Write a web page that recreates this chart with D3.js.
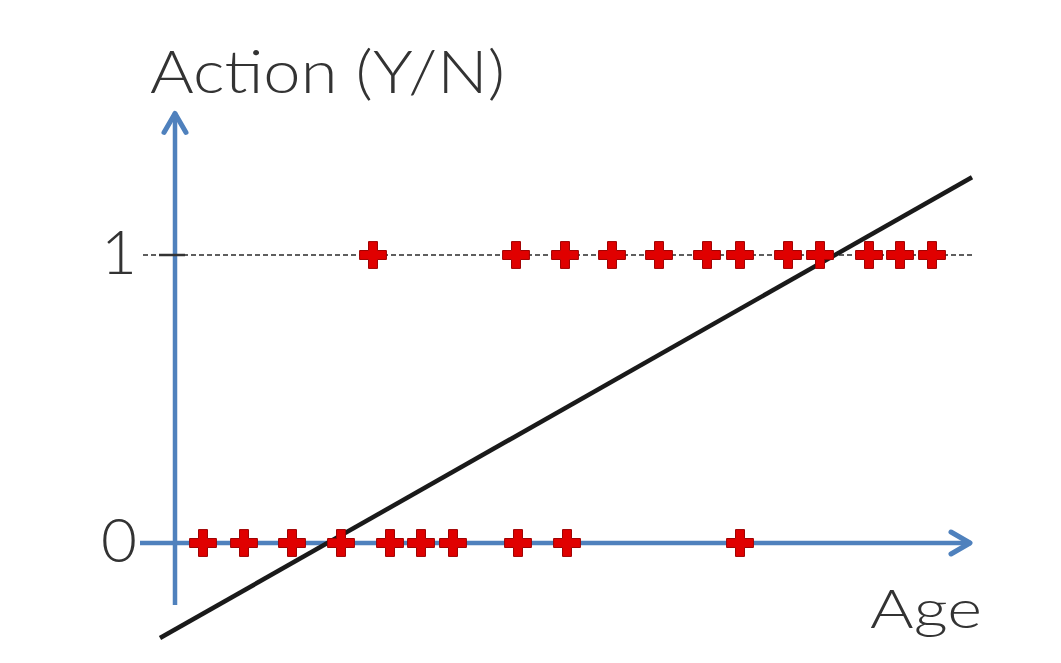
<!DOCTYPE html>
<html>
<head>
<meta charset="utf-8">
<script src="https://cdn.jsdelivr.net/npm/d3@7"></script>
<style>
  body { margin: 0; background: #fff; }
  svg { display: block; }
</style>
</head>
<body>
<div id="chart"></div>
<script>
// ages of people who took the action (1) and who didn't (0)
const yesAges = [19.8, 34.1, 39.0, 43.7, 48.4, 53.2, 56.5, 61.3, 64.5, 69.4, 72.5, 75.7];
const noAges = [2.8, 6.9, 11.7, 16.6, 21.5, 24.6, 27.8, 34.3, 39.2, 56.5];
// fitted straight line, two end points
const lineAges = [-1.5, 79.7];
const lineValues = [-0.33, 1.27];
const tickValues = [0, 1];

const width = 1061, height = 663;

const svg = d3.select("#chart").append("svg")
    .attr("width", width)
    .attr("height", height);

const x = d3.scaleLinear().domain([0, 80]).range([175, 975]);
const y = d3.scaleLinear().domain([0, 1]).range([543, 255]);

const blue = "#4f81bd";

// chevron arrow head
const defs = svg.append("defs");
defs.append("marker")
    .attr("id", "arrow")
    .attr("viewBox", "-26 -16 30 32")
    .attr("refX", 0).attr("refY", 0)
    .attr("markerWidth", 30).attr("markerHeight", 32)
    .attr("markerUnits", "userSpaceOnUse")
    .attr("orient", "auto")
    .append("path")
    .attr("d", "M-20,-11 L-1,0 L-20,11")
    .attr("fill", "none")
    .attr("stroke", blue)
    .attr("stroke-width", 5)
    .attr("stroke-linecap", "round")
    .attr("stroke-linejoin", "round");

// dashed guide at 1
svg.append("line")
    .attr("x1", x(-3.2)).attr("x2", x(80))
    .attr("y1", y(1)).attr("y2", y(1))
    .attr("stroke", "#2a2a2a")
    .attr("stroke-width", 1.5)
    .attr("stroke-dasharray", "5,3");

// axes
svg.append("line")
    .attr("x1", x(-3.5)).attr("x2", x(79.6))
    .attr("y1", y(0)).attr("y2", y(0))
    .attr("stroke", blue).attr("stroke-width", 4.5)
    .attr("marker-end", "url(#arrow)");

svg.append("line")
    .attr("x1", x(0)).attr("x2", x(0))
    .attr("y1", y(-0.215)).attr("y2", y(1.495))
    .attr("stroke", blue).attr("stroke-width", 4.5)
    .attr("marker-end", "url(#arrow)");

// small solid tick at 1
svg.append("line")
    .attr("x1", x(-1.6)).attr("x2", x(1))
    .attr("y1", y(1)).attr("y2", y(1))
    .attr("stroke", "#333").attr("stroke-width", 2.5);

// tick labels
const yAxis = d3.axisLeft(y).tickValues(tickValues).tickSize(0).tickPadding(0).tickFormat(d3.format("d"));
const gy = svg.append("g")
    .attr("transform", "translate(" + (x(0) - 38) + ",0)")
    .call(yAxis);
gy.select(".domain").remove();
gy.selectAll("text")
    .attr("font-family", "Lato, 'Open Sans', sans-serif")
    .attr("font-weight", 300)
    .attr("font-size", 62)
    .attr("fill", "#333")
    .attr("dy", "0.3em");

// fitted line
svg.append("line")
    .attr("x1", x(lineAges[0])).attr("y1", y(lineValues[0]))
    .attr("x2", x(lineAges[1])).attr("y2", y(lineValues[1]))
    .attr("stroke", "#1a1a1a").attr("stroke-width", 4.5);

// plus markers
const plus = d3.symbol().type(d3.symbolCross).size(400);
const points = yesAges.map(a => ({ age: a, v: 1 }))
    .concat(noAges.map(a => ({ age: a, v: 0 })));

svg.selectAll(".pt")
    .data(points)
    .enter()
    .append("path")
    .attr("class", "pt")
    .attr("d", plus)
    .attr("transform", d => "translate(" + x(d.age) + "," + y(d.v) + ")")
    .attr("fill", "#e00000")
    .attr("stroke", "#a00000")
    .attr("stroke-width", 1);

// titles
svg.append("text")
    .attr("x", 150).attr("y", 93)
    .attr("font-family", "Lato, 'Open Sans', sans-serif")
    .attr("font-weight", 300)
    .attr("font-size", 60)
    .attr("fill", "#333")
    .attr("textLength", 355)
    .attr("lengthAdjust", "spacingAndGlyphs")
    .text("Action (Y/N)");

svg.append("text")
    .attr("x", 870).attr("y", 628)
    .attr("font-family", "Lato, 'Open Sans', sans-serif")
    .attr("font-weight", 300)
    .attr("font-size", 53)
    .attr("fill", "#333")
    .attr("textLength", 112)
    .attr("lengthAdjust", "spacingAndGlyphs")
    .text("Age");
</script>
</body>
</html>
